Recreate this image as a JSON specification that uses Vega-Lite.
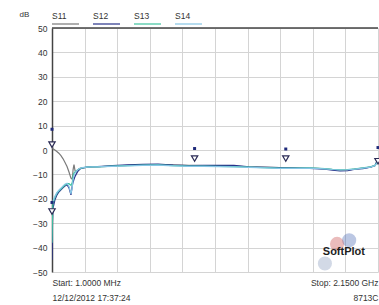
{
  "$schema": "https://vega.github.io/schema/vega-lite/v6.json",
  "width": 326,
  "height": 244,
  "autosize": {"type": "none"},
  "padding": {"left": 52, "top": 28, "right": 1, "bottom": 33},
  "background": "white",
  "config": {
    "view": {"stroke": null},
    "font": "Liberation Sans",
    "axis": {"labelFont": "Liberation Sans", "titleFont": "Liberation Sans"}
  },
  "datasets": {
    "traces": [
      {"freq": 1, "series": "S11", "db": 2.0}, {"freq": 7, "series": "S11", "db": 0.5}, {"freq": 20, "series": "S11", "db": 0}, {"freq": 33, "series": "S11", "db": -0.6}, {"freq": 46, "series": "S11", "db": -1.3}, {"freq": 60, "series": "S11", "db": -2.3}, {"freq": 73, "series": "S11", "db": -3.5}, {"freq": 86, "series": "S11", "db": -5.0}, {"freq": 100, "series": "S11", "db": -6.8}, {"freq": 113, "series": "S11", "db": -9.0}, {"freq": 126, "series": "S11", "db": -11.5}, {"freq": 135, "series": "S11", "db": -12.0}, {"freq": 140, "series": "S11", "db": -8.0}, {"freq": 146, "series": "S11", "db": -6.0}, {"freq": 153, "series": "S11", "db": -8.5}, {"freq": 160, "series": "S11", "db": -9.0}, {"freq": 173, "series": "S11", "db": -8.0}, {"freq": 186, "series": "S11", "db": -7.5}, {"freq": 200, "series": "S11", "db": -7.3}, {"freq": 230, "series": "S11", "db": -7.1}, {"freq": 265, "series": "S11", "db": -7.0}, {"freq": 300, "series": "S11", "db": -6.9}, {"freq": 330, "series": "S11", "db": -6.8}, {"freq": 400, "series": "S11", "db": -6.6}, {"freq": 500, "series": "S11", "db": -6.3}, {"freq": 600, "series": "S11", "db": -6.1}, {"freq": 700, "series": "S11", "db": -6.0}, {"freq": 800, "series": "S11", "db": -6.1}, {"freq": 900, "series": "S11", "db": -6.3}, {"freq": 1000, "series": "S11", "db": -6.4}, {"freq": 1100, "series": "S11", "db": -6.5}, {"freq": 1200, "series": "S11", "db": -6.6}, {"freq": 1300, "series": "S11", "db": -6.9}, {"freq": 1400, "series": "S11", "db": -7.0}, {"freq": 1500, "series": "S11", "db": -7.2}, {"freq": 1600, "series": "S11", "db": -7.4}, {"freq": 1700, "series": "S11", "db": -7.3}, {"freq": 1800, "series": "S11", "db": -7.7}, {"freq": 1850, "series": "S11", "db": -8.0}, {"freq": 1900, "series": "S11", "db": -8.3}, {"freq": 1950, "series": "S11", "db": -8.2}, {"freq": 2000, "series": "S11", "db": -7.8}, {"freq": 2050, "series": "S11", "db": -7.4}, {"freq": 2100, "series": "S11", "db": -7.0}, {"freq": 2130, "series": "S11", "db": -6.5}, {"freq": 2150, "series": "S11", "db": -4.0},

      {"freq": 1, "series": "S12", "db": -45}, {"freq": 4, "series": "S12", "db": -30}, {"freq": 7, "series": "S12", "db": -24}, {"freq": 20, "series": "S12", "db": -20.5}, {"freq": 33, "series": "S12", "db": -18.5}, {"freq": 46, "series": "S12", "db": -17.2}, {"freq": 60, "series": "S12", "db": -16.3}, {"freq": 73, "series": "S12", "db": -15.5}, {"freq": 86, "series": "S12", "db": -14.8}, {"freq": 100, "series": "S12", "db": -14.2}, {"freq": 113, "series": "S12", "db": -15.5}, {"freq": 126, "series": "S12", "db": -18.4}, {"freq": 135, "series": "S12", "db": -14.5}, {"freq": 140, "series": "S12", "db": -13.2}, {"freq": 146, "series": "S12", "db": -12.0}, {"freq": 153, "series": "S12", "db": -10.8}, {"freq": 160, "series": "S12", "db": -10.0}, {"freq": 173, "series": "S12", "db": -8.6}, {"freq": 186, "series": "S12", "db": -7.8}, {"freq": 200, "series": "S12", "db": -7.4}, {"freq": 230, "series": "S12", "db": -7.0}, {"freq": 265, "series": "S12", "db": -6.8}, {"freq": 300, "series": "S12", "db": -6.8}, {"freq": 330, "series": "S12", "db": -6.7}, {"freq": 400, "series": "S12", "db": -6.4}, {"freq": 500, "series": "S12", "db": -6.1}, {"freq": 600, "series": "S12", "db": -5.9}, {"freq": 700, "series": "S12", "db": -5.8}, {"freq": 800, "series": "S12", "db": -6.2}, {"freq": 900, "series": "S12", "db": -6.4}, {"freq": 1000, "series": "S12", "db": -6.3}, {"freq": 1100, "series": "S12", "db": -6.3}, {"freq": 1200, "series": "S12", "db": -6.3}, {"freq": 1300, "series": "S12", "db": -6.9}, {"freq": 1400, "series": "S12", "db": -7.1}, {"freq": 1500, "series": "S12", "db": -7.2}, {"freq": 1600, "series": "S12", "db": -7.3}, {"freq": 1700, "series": "S12", "db": -7.5}, {"freq": 1800, "series": "S12", "db": -7.9}, {"freq": 1850, "series": "S12", "db": -8.3}, {"freq": 1900, "series": "S12", "db": -8.6}, {"freq": 1950, "series": "S12", "db": -8.5}, {"freq": 2000, "series": "S12", "db": -7.9}, {"freq": 2050, "series": "S12", "db": -7.6}, {"freq": 2100, "series": "S12", "db": -7.0}, {"freq": 2130, "series": "S12", "db": -6.4}, {"freq": 2150, "series": "S12", "db": -3.5},

      {"freq": 1, "series": "S13", "db": -38}, {"freq": 4, "series": "S13", "db": -27}, {"freq": 7, "series": "S13", "db": -22}, {"freq": 20, "series": "S13", "db": -19.5}, {"freq": 33, "series": "S13", "db": -17.8}, {"freq": 46, "series": "S13", "db": -16.8}, {"freq": 60, "series": "S13", "db": -16.0}, {"freq": 73, "series": "S13", "db": -15.2}, {"freq": 86, "series": "S13", "db": -14.4}, {"freq": 100, "series": "S13", "db": -13.8}, {"freq": 113, "series": "S13", "db": -13.8}, {"freq": 126, "series": "S13", "db": -14.5}, {"freq": 135, "series": "S13", "db": -13.2}, {"freq": 140, "series": "S13", "db": -10.5}, {"freq": 146, "series": "S13", "db": -9.5}, {"freq": 153, "series": "S13", "db": -9.0}, {"freq": 160, "series": "S13", "db": -8.6}, {"freq": 173, "series": "S13", "db": -8.0}, {"freq": 186, "series": "S13", "db": -7.6}, {"freq": 200, "series": "S13", "db": -7.3}, {"freq": 230, "series": "S13", "db": -7.0}, {"freq": 265, "series": "S13", "db": -6.9}, {"freq": 300, "series": "S13", "db": -6.9}, {"freq": 330, "series": "S13", "db": -6.8}, {"freq": 400, "series": "S13", "db": -6.6}, {"freq": 500, "series": "S13", "db": -6.4}, {"freq": 600, "series": "S13", "db": -6.2}, {"freq": 700, "series": "S13", "db": -6.1}, {"freq": 800, "series": "S13", "db": -6.4}, {"freq": 900, "series": "S13", "db": -6.6}, {"freq": 1000, "series": "S13", "db": -6.6}, {"freq": 1100, "series": "S13", "db": -6.7}, {"freq": 1200, "series": "S13", "db": -6.8}, {"freq": 1300, "series": "S13", "db": -7.0}, {"freq": 1400, "series": "S13", "db": -7.2}, {"freq": 1500, "series": "S13", "db": -7.4}, {"freq": 1600, "series": "S13", "db": -7.4}, {"freq": 1700, "series": "S13", "db": -7.3}, {"freq": 1800, "series": "S13", "db": -7.6}, {"freq": 1850, "series": "S13", "db": -7.9}, {"freq": 1900, "series": "S13", "db": -8.1}, {"freq": 1950, "series": "S13", "db": -8.0}, {"freq": 2000, "series": "S13", "db": -7.7}, {"freq": 2050, "series": "S13", "db": -7.3}, {"freq": 2100, "series": "S13", "db": -6.9}, {"freq": 2130, "series": "S13", "db": -6.3}, {"freq": 2150, "series": "S13", "db": -4.5},

      {"freq": 1, "series": "S14", "db": -22}, {"freq": 7, "series": "S14", "db": -21}, {"freq": 20, "series": "S14", "db": -19}, {"freq": 33, "series": "S14", "db": -17.5}, {"freq": 46, "series": "S14", "db": -16.5}, {"freq": 60, "series": "S14", "db": -15.6}, {"freq": 73, "series": "S14", "db": -14.8}, {"freq": 86, "series": "S14", "db": -14.0}, {"freq": 100, "series": "S14", "db": -13.6}, {"freq": 113, "series": "S14", "db": -15.0}, {"freq": 126, "series": "S14", "db": -18.0}, {"freq": 135, "series": "S14", "db": -15.0}, {"freq": 140, "series": "S14", "db": -12.0}, {"freq": 146, "series": "S14", "db": -10.5}, {"freq": 153, "series": "S14", "db": -9.4}, {"freq": 160, "series": "S14", "db": -8.8}, {"freq": 173, "series": "S14", "db": -8.0}, {"freq": 186, "series": "S14", "db": -7.5}, {"freq": 200, "series": "S14", "db": -7.2}, {"freq": 230, "series": "S14", "db": -7.0}, {"freq": 265, "series": "S14", "db": -6.95}, {"freq": 300, "series": "S14", "db": -6.9}, {"freq": 330, "series": "S14", "db": -6.85}, {"freq": 400, "series": "S14", "db": -6.7}, {"freq": 500, "series": "S14", "db": -6.5}, {"freq": 600, "series": "S14", "db": -6.3}, {"freq": 700, "series": "S14", "db": -6.2}, {"freq": 800, "series": "S14", "db": -6.5}, {"freq": 900, "series": "S14", "db": -6.7}, {"freq": 1000, "series": "S14", "db": -6.7}, {"freq": 1100, "series": "S14", "db": -6.8}, {"freq": 1200, "series": "S14", "db": -6.9}, {"freq": 1300, "series": "S14", "db": -7.1}, {"freq": 1400, "series": "S14", "db": -7.3}, {"freq": 1500, "series": "S14", "db": -7.5}, {"freq": 1600, "series": "S14", "db": -7.5}, {"freq": 1700, "series": "S14", "db": -7.4}, {"freq": 1800, "series": "S14", "db": -7.7}, {"freq": 1850, "series": "S14", "db": -8.0}, {"freq": 1900, "series": "S14", "db": -8.2}, {"freq": 1950, "series": "S14", "db": -8.1}, {"freq": 2000, "series": "S14", "db": -7.8}, {"freq": 2050, "series": "S14", "db": -7.4}, {"freq": 2100, "series": "S14", "db": -7.0}, {"freq": 2130, "series": "S14", "db": -6.4}, {"freq": 2150, "series": "S14", "db": -4.8}
    ],
    "markers": [
      {"freq": 1, "db": 2.2, "kind": "tri"}, {"freq": 1, "db": 8.5, "kind": "sq"},
      {"freq": 1, "db": -25.2, "kind": "tri"}, {"freq": 1, "db": -21.5, "kind": "sq"},
      {"freq": 941, "db": -3.5, "kind": "tri"}, {"freq": 941, "db": 0.6, "kind": "sq"},
      {"freq": 1542, "db": -3.5, "kind": "tri"}, {"freq": 1542, "db": 0.4, "kind": "sq"},
      {"freq": 2150, "db": -4.6, "kind": "tri"}, {"freq": 2150, "db": 1.0, "kind": "sq"}
    ],
    "logo": [
      {"freq": 1960, "db": -37, "tone": "blue"},
      {"freq": 1880, "db": -38.5, "tone": "red"},
      {"freq": 1800, "db": -46.5, "tone": "grey"}
    ]
  },
  "layer": [
    {
      "data": {"name": "logo"},
      "mark": {"type": "point", "shape": "circle", "filled": true, "size": 200, "opacity": 0.35},
      "encoding": {
        "x": {"field": "freq", "type": "quantitative"},
        "y": {"field": "db", "type": "quantitative"},
        "fill": {"field": "tone", "type": "nominal", "scale": {"domain": ["blue", "red", "grey"], "range": ["#3b5fb0", "#c44040", "#7f93b8"]}, "legend": null}
      }
    },
    {
      "data": {"name": "traces"},
      "mark": {"type": "line", "strokeWidth": 1.2, "clip": true},
      "encoding": {
        "x": {
          "field": "freq", "type": "quantitative",
          "scale": {"domain": [1, 2150], "nice": false, "zero": false},
          "axis": {
            "values": [1, 215.9, 430.8, 645.7, 860.6, 1075.5, 1290.4, 1505.3, 1720.2, 1935.1, 2150],
            "tickCount": 20,
            "title": null,
            "grid": true, "gridColor": "#d4d4d4", "gridWidth": 1,
            "domain": false, "ticks": false,
            "labelFlush": true, "labelOverlap": false,
            "labelExpr": "datum.value < 10 ? ['Start: 1.0000 MHz', '12/12/2012 17:37:24'] : (datum.value > 2100 ? ['Stop: 2.1500 GHz', '8713C'] : '')",
            "labelFontSize": 8.5, "labelColor": "#333333", "labelPadding": 6, "labelLineHeight": 15, "labelBaseline": "top"
          }
        },
        "y": {
          "field": "db", "type": "quantitative",
          "scale": {"domain": [-50, 50], "nice": false},
          "axis": {
            "values": [-50, -40, -30, -20, -10, 0, 10, 20, 30, 40, 50],
            "tickCount": 20,
            "labelOverlap": false,
            "title": "dB", "titleAngle": 0, "titleX": -33, "titleY": -14,
            "titleAlign": "left", "titleBaseline": "middle", "titleFontSize": 8, "titleFontWeight": "normal", "titleColor": "#333333",
            "grid": true, "gridColor": "#d4d4d4", "gridWidth": 1,
            "domain": true, "domainColor": "#444444", "domainWidth": 1.5,
            "ticks": false, "labelPadding": 5, "labelFontSize": 8.5, "labelColor": "#333333"
          }
        },
        "color": {
          "field": "series", "type": "nominal",
          "scale": {"domain": ["S11", "S12", "S13", "S14"], "range": ["#7a7a7a", "#27318a", "#3fc4a0", "#86c6e6"]},
          "legend": {
            "title": null, "orient": "none", "legendX": -1, "legendY": -18, "direction": "horizontal",
            "symbolType": "M-1,1.6H4.4", "symbolSize": 100, "symbolStrokeWidth": 2, "symbolOpacity": 0.6,
            "labelOffset": -11, "labelFontSize": 8.5, "labelColor": "#333333", "columnPadding": 6
          }
        }
      }
    },
    {
      "data": {"name": "markers"},
      "transform": [{"filter": "datum.kind == 'tri'"}],
      "mark": {"type": "point", "shape": "triangle-down", "filled": true, "fill": "white", "stroke": "#2b2b55", "strokeWidth": 1.2, "size": 40, "opacity": 1},
      "encoding": {
        "x": {"field": "freq", "type": "quantitative"},
        "y": {"field": "db", "type": "quantitative"}
      }
    },
    {
      "data": {"name": "markers"},
      "transform": [{"filter": "datum.kind == 'sq'"}],
      "mark": {"type": "point", "shape": "square", "filled": true, "color": "#1f2a7a", "size": 9, "opacity": 1},
      "encoding": {
        "x": {"field": "freq", "type": "quantitative"},
        "y": {"field": "db", "type": "quantitative"}
      }
    },
    {
      "data": {"values": [{"freq": 1925, "db": -41.8, "label": "SoftPlot"}]},
      "mark": {"type": "text", "font": "Liberation Sans", "fontWeight": "bold", "fontSize": 11, "color": "#1e1e1e"},
      "encoding": {
        "x": {"field": "freq", "type": "quantitative"},
        "y": {"field": "db", "type": "quantitative"},
        "text": {"field": "label"}
      }
    },
    {
      "data": {"values": [{"db": 50}]},
      "mark": {"type": "rule", "color": "#444444", "strokeWidth": 1.5},
      "encoding": {"y": {"field": "db", "type": "quantitative"}}
    }
  ]
}
